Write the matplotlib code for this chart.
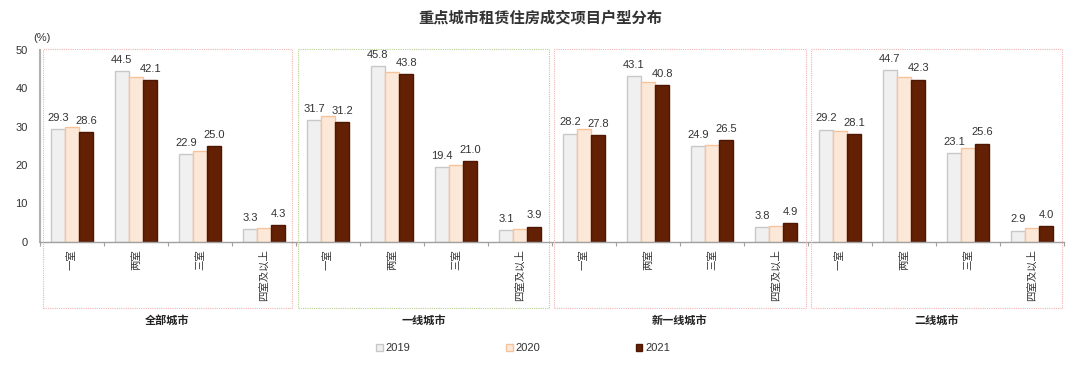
import matplotlib
matplotlib.use("Agg")
import matplotlib.pyplot as plt
import matplotlib.patches as mpatches
import numpy as np

plt.rcParams['font.family'] = ['Liberation Sans', 'Noto Sans CJK SC', 'DejaVu Sans']

title = "重点城市租赁住房成交项目户型分布"
groups = ["全部城市", "一线城市", "新一线城市", "二线城市"]
rooms = ["一室", "两室", "三室", "四室及以上"]
years = ["2019", "2020", "2021"]

v2019 = [29.3, 44.5, 22.9, 3.3,
         31.7, 45.8, 19.4, 3.1,
         28.2, 43.1, 24.9, 3.8,
         29.2, 44.7, 23.1, 2.9]
v2020 = [30.0, 43.0, 23.7, 3.7,
         32.7, 44.2, 20.0, 3.4,
         29.3, 41.7, 25.1, 4.1,
         29.0, 43.0, 24.5, 3.5]
v2021 = [28.6, 42.1, 25.0, 4.3,
         31.2, 43.8, 21.0, 3.9,
         27.8, 40.8, 26.5, 4.9,
         28.1, 42.3, 25.6, 4.0]

W, H = 1080, 366
fig = plt.figure(figsize=(W / 100, H / 100), dpi=100)

def fx(px):
    return px / W

def fy(py):
    return (H - py) / H

ax = fig.add_axes([fx(40), fy(241.7), fx(1064) - fx(40), fy(50) - fy(241.7)])

n = len(v2019)
x = np.arange(n)
bw = 0.22
styles = [
    dict(color="#F0F0F0", edgecolor="#C8C8C8"),
    dict(color="#FCE8D9", edgecolor="#F7C39A"),
    dict(color="#632005", edgecolor="#4E1703"),
]
series = [v2019, v2020, v2021]
bars = []
for i, (vals, st) in enumerate(zip(series, styles)):
    b = ax.bar(x + (i - 1) * bw, vals, width=bw, linewidth=1.0, **st, zorder=2)
    bars.append(b)

for idx in (0, 2):
    for xi, v in zip(x + (idx - 1) * bw, series[idx]):
        ax.annotate(f"{v:.1f}", (xi, v), xytext=(0, 4.5), textcoords="offset points",
                    ha="center", va="bottom", fontsize=8, color="#333333")

ax.set_xlim(-0.5, n - 0.5)
ax.set_ylim(0, 50)
ax.set_yticks([0, 10, 20, 30, 40, 50])
ax.tick_params(axis="y", length=0, pad=9, labelsize=8, labelcolor="#333333")
ax.set_xticks(np.arange(-0.5, n, 1.0))
ax.set_xticklabels([])
ax.tick_params(axis="x", length=3, color="#A0A0A0", width=0.8)
for s in ("top", "right"):
    ax.spines[s].set_visible(False)
ax.spines["left"].set_color("#B0B0B0")
ax.spines["left"].set_linewidth(1.5)
ax.spines["bottom"].set_color("#A0A0A0")
ax.spines["bottom"].set_linewidth(1.0)
ax.patch.set_alpha(0)

# category labels
for i in range(n):
    ax.text(i, -0.038, rooms[i % 4], transform=ax.get_xaxis_transform(),
            rotation=90, ha="center", va="top", fontsize=7.5, color="#333333")

# group boxes
boxes = [(43, 292, "#F2B4B4"), (298, 549, "#B8D090"), (554, 806, "#F2B4B4"), (811, 1062, "#F2B4B4")]
for (x0, x1, col), g in zip(boxes, groups):
    r = mpatches.Rectangle((fx(x0), fy(308)), fx(x1) - fx(x0), fy(49) - fy(308),
                           transform=fig.transFigure, fill=False, edgecolor=col,
                           linestyle=(0, (1, 1)), linewidth=0.8, zorder=0)
    fig.patches.append(r)
    fig.text(fx((x0 + x1) / 2), fy(320), g, ha="center", va="center",
             fontsize=8, fontweight="bold", color="#222222")

fig.text(0.5, fy(18), title, ha="center", va="center", fontsize=11,
         fontweight="bold", color="#333333")
fig.text(fx(33), fy(38), "(%)", ha="left", va="center", fontsize=8, color="#333333")

handles = [mpatches.Patch(facecolor=st["color"], edgecolor=st["edgecolor"], linewidth=1.0)
           for st in styles]
fig.legend(handles, years, loc="center", bbox_to_anchor=(fx(523), fy(348)), ncol=3,
           frameon=False, fontsize=8, handlelength=0.6, handleheight=0.6,
           handletextpad=0.25, columnspacing=8.6, labelcolor="#333333")

fig.savefig("out.png", dpi=100)
